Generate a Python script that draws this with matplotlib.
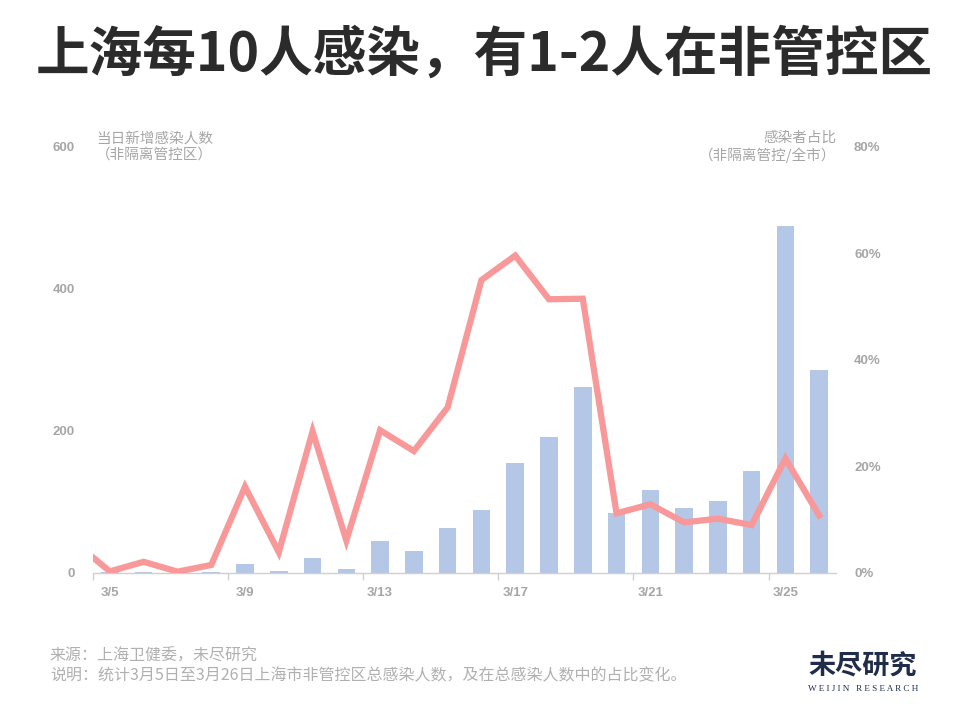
import matplotlib.pyplot as plt
import numpy as np

plt.rcParams['font.family'] = ['Noto Sans CJK SC', 'DejaVu Sans']

# data
days = ['3/5', '3/6', '3/7', '3/8', '3/9', '3/10', '3/11', '3/12', '3/13', '3/14', '3/15',
        '3/16', '3/17', '3/18', '3/19', '3/20', '3/21', '3/22', '3/23', '3/24', '3/25', '3/26']
new_cases = [1, 2, 0, 2, 13, 3, 21, 5, 45, 31, 64, 88, 155, 192, 262, 84, 117, 92, 102, 143, 489, 286]
# share of infections outside control zones, starting one day earlier (3/4)
share = [5.5, 0.3, 2.1, 0.25, 1.5, 16.2, 3.9, 26.6, 6.1, 26.8, 22.9, 31.1,
         55.0, 59.6, 51.4, 51.5, 11.2, 12.9, 9.5, 10.2, 9.0, 21.5, 10.8]

left_ticks = [0, 200, 400, 600]
right_ticks = [0, 20, 40, 60, 80]

grey = '#a6a6a6'
bar_color = '#b4c7e7'
line_color = '#f89899'

fig = plt.figure(figsize=(9.6, 7.2), dpi=100)
ax = fig.add_axes([0.0969, 0.2042, 0.774, 0.5917])
ax2 = ax.twinx()

x = np.arange(len(days))
ax.bar(x, new_cases, width=0.52, color=bar_color, zorder=1)
ax2.plot(np.arange(-1, len(days)), share, color=line_color, lw=4.5,
         solid_joinstyle='miter', zorder=3)

ax.set_xlim(-0.5, len(days) - 0.5)
ax.set_ylim(0, 600)
ax2.set_ylim(0, 80)

ax.set_yticks(left_ticks)
ax.set_yticklabels([str(v) for v in left_ticks])
ax2.set_yticks(right_ticks)
ax2.set_yticklabels([f'{v}%' for v in right_ticks])

ax.set_xticks(x[::4])
ax.set_xticklabels(days[::4])
ax.set_xticks(np.arange(-0.5, len(days), 4), minor=True)
ax.tick_params(axis='x', which='major', length=0, pad=10)
ax.tick_params(axis='x', which='minor', length=5, color='#d0d0d0', width=1)
ax.tick_params(axis='y', length=0, pad=13)
ax2.tick_params(axis='y', length=0, pad=13)

for a in (ax, ax2):
    for s in ['top', 'left', 'right', 'bottom']:
        a.spines[s].set_visible(False)
    for lab in a.get_xticklabels() + a.get_yticklabels():
        lab.set_family(['Liberation Sans', 'DejaVu Sans'])
        lab.set_fontweight('bold')
        lab.set_color(grey)
        lab.set_fontsize(9.5)
ax.spines['bottom'].set_visible(True)
ax.spines['bottom'].set_color('#d0d0d0')
ax.spines['bottom'].set_linewidth(1)
ax.set_zorder(ax2.get_zorder() - 1)
ax.patch.set_visible(False)

# axis titles
ax.text(0.004, 1.0, '当日新增感染人数\n（非隔离管控区）', transform=ax.transAxes,
        ha='left', va='center', fontsize=10.5, color=grey, linespacing=1.2)
ax.text(1.0, 1.0, '感染者占比\n（非隔离管控/全市）', transform=ax.transAxes,
        ha='right', va='center', fontsize=10.5, color=grey, linespacing=1.2)

fig.text(0.504, 0.923, '上海每10人感染，有1-2人在非管控区', ha='center', va='center',
         fontsize=38.6, fontweight='bold', color='#2b2b2b')

fig.text(0.052, 0.089, '来源：上海卫健委，未尽研究', ha='left', va='center',
         fontsize=11.5, color='#b0b0b0')
fig.text(0.052, 0.061, '说明：统计3月5日至3月26日上海市非管控区总感染人数，及在总感染人数中的占比变化。',
         ha='left', va='center', fontsize=11.5, color='#b0b0b0')

fig.text(0.899, 0.076, '未尽研究', ha='center', va='center', fontsize=19.5,
         fontweight='bold', color='#1f2d4a')
fig.text(0.899, 0.043, 'W E I J I N   R E S E A R C H', ha='center', va='center', fontsize=6.6,
         family=['Liberation Serif', 'DejaVu Serif'], color='#1f2d4a')

fig.savefig('out.png', dpi=100)
